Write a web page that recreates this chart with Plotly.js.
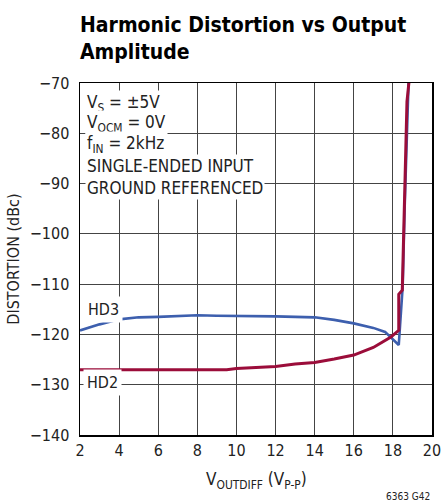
<!DOCTYPE html>
<html>
<head>
<meta charset="utf-8">
<script src="https://cdn.plot.ly/plotly-3.0.1.min.js"></script>
<style>
  html, body { margin: 0; padding: 0; background: #fff; }
  #chart { width: 442px; height: 504px; }
</style>
</head>
<body>
<div id="chart"></div>
<script>
// Data
const hd3X = [2, 3, 4, 5, 6, 7, 8, 9, 10, 11, 12, 13, 14, 15, 16, 17, 17.6, 18.3, 18.5, 18.6, 18.7, 18.8, 18.9];
const hd3Y = [-119.2, -118, -117, -116.6, -116.5, -116.4, -116.2, -116.3, -116.3, -116.4, -116.4, -116.5, -116.6, -117.1, -117.8, -118.7, -119.5, -122.1, -110.5, -95, -80, -70, -65];

const hd2X = [2, 4, 6, 8, 9.5, 10, 11, 12, 13, 14, 15, 16, 17, 17.9, 18.3, 18.3, 18.48, 18.6, 18.67, 18.72, 18.87];
const hd2Y = [-127, -127, -127, -127, -127, -126.8, -126.6, -126.4, -125.9, -125.6, -124.9, -124.1, -122.6, -120.5, -119.2, -112, -111.2, -90, -77.4, -73.7, -68];

const xTicks = [2, 4, 6, 8, 10, 12, 14, 16, 18, 20];
const yTicks = [-140, -130, -120, -110, -100, -90, -80, -70];

const FONT = '"DejaVu Sans Condensed", "Liberation Sans Narrow", "Liberation Sans", Arial, sans-serif';

const traces = [
  { x: hd3X, y: hd3Y, mode: 'lines', name: 'HD3',
    line: { color: '#3d5fae', width: 2.6 }, hoverinfo: 'skip' },
  { x: hd2X, y: hd2Y, mode: 'lines', name: 'HD2',
    line: { color: '#9b0d3a', width: 3 }, hoverinfo: 'skip' }
];

const infoLines = [
  'V<sub>S</sub> = ±5V',
  'V<sub>OCM</sub> = 0V',
  'f<sub>IN</sub> = 2kHz',
  'SINGLE-ENDED INPUT',
  'GROUND REFERENCED'
];

const annotations = [];
const infoY = [-74.0, -78.1, -82.2, -86.6, -90.8];
infoLines.forEach((t, i) => {
  annotations.push({
    text: t, x: 2.25, y: infoY[i], xref: 'x', yref: 'y',
    xanchor: 'left', yanchor: 'middle', showarrow: false,
    font: { family: FONT, size: 17, color: '#222' },
    bgcolor: '#fff', borderpad: 1
  });
});
annotations.push({
  text: 'HD3', x: 2.2, y: -115.1, xref: 'x', yref: 'y',
  xanchor: 'left', yanchor: 'middle', showarrow: false,
  font: { family: FONT, size: 16, color: '#222' }, bgcolor: '#fff', borderpad: 3
});
annotations.push({
  text: 'HD2', x: 2.15, y: -129.6, xref: 'x', yref: 'y',
  xanchor: 'left', yanchor: 'middle', showarrow: false,
  font: { family: FONT, size: 16, color: '#222' }, bgcolor: '#fff', borderpad: 3
});
annotations.push({
  text: '6363 G42', x: 1, y: 0, xref: 'paper', yref: 'paper',
  xanchor: 'right', yanchor: 'top', yshift: -54,
  showarrow: false, font: { family: FONT, size: 10, color: '#222' }
});
annotations.push({
  text: 'V<sub>OUTDIFF</sub> (V<sub>P-P</sub>)', x: 0.5, y: 0, xref: 'paper', yref: 'paper',
  xanchor: 'center', yanchor: 'top', yshift: -32, showarrow: false,
  font: { family: FONT, size: 17, color: '#222' }
});
// Title as a left-aligned annotation above the plot
annotations.push({
  text: '<b>Harmonic Distortion vs Output<br>Amplitude</b>', x: 0, y: 1,
  xref: 'paper', yref: 'paper', xanchor: 'left', yanchor: 'bottom',
  xshift: -2, yshift: 17, align: 'left', showarrow: false,
  font: { family: FONT, size: 21, color: '#000' }
});

const layout = {
  width: 442, height: 504,
  margin: { l: 80, r: 10, t: 83, b: 69 },
  paper_bgcolor: '#fff', plot_bgcolor: '#fff',
  showlegend: false,
  xaxis: {
    range: [2, 20], tickvals: xTicks, ticktext: xTicks.map(String),
    showgrid: true, gridcolor: '#444', gridwidth: 1,
    zeroline: false, showline: true, mirror: true, linecolor: '#000', linewidth: 1.5,
    ticks: '', ticklen: 0,
    tickfont: { family: FONT, size: 16, color: '#222' }
  },
  yaxis: {
    range: [-140, -70], tickvals: yTicks, ticktext: yTicks.map(v => '\u2212' + Math.abs(v)),
    showgrid: true, gridcolor: '#444', gridwidth: 1,
    zeroline: false, showline: true, mirror: true, linecolor: '#000', linewidth: 1.5,
    ticks: '', ticklen: 0, ticklabelstandoff: 6,
    tickfont: { family: FONT, size: 16, color: '#222' },
    title: { text: 'DISTORTION (dBc)', standoff: 6,
      font: { family: FONT, size: 16, color: '#222' } }
  },
  annotations: annotations
};

Plotly.newPlot('chart', traces, layout, { staticPlot: true, displayModeBar: false });
</script>
</body>
</html>
